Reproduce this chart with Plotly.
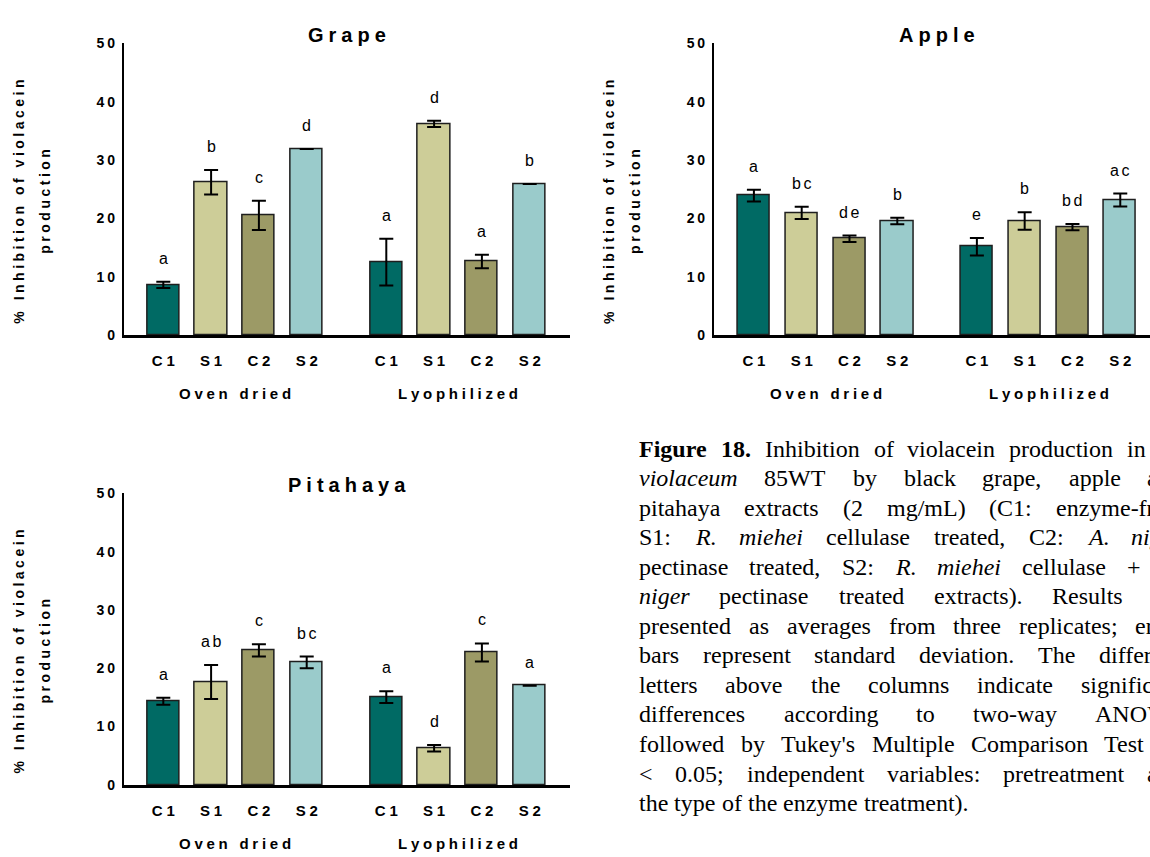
import plotly.graph_objects as go

# ---------------- data ----------------
CATEGORIES = ["C1", "S1", "C2", "S2"]
GROUPS = ["Oven dried", "Lyophilized"]

GRAPE_MEAN = [8.6, 26.2, 20.5, 31.9, 12.5, 36.2, 12.6, 25.9]
GRAPE_SD = [0.55, 2.1, 2.5, None, 4.0, 0.55, 1.15, None]
GRAPE_LETTERS = ["a", "b", "c", "d", "a", "d", "a", "b"]

APPLE_MEAN = [23.9, 20.95, 16.5, 19.55, 15.15, 19.55, 18.5, 23.15]
APPLE_SD = [1.0, 1.05, 0.55, 0.55, 1.5, 1.5, 0.55, 1.1]
APPLE_LETTERS = ["a", "bc", "de", "b", "e", "b", "bd", "ac"]

PITA_MEAN = [14.35, 17.65, 23.05, 21.0, 15.05, 6.3, 22.7, 17.0]
PITA_SD = [0.6, 2.9, 1.05, 1.0, 1.0, 0.55, 1.55, None]
PITA_LETTERS = ["a", "ab", "c", "bc", "a", "d", "c", "a"]

Y_TICKS = [0, 10, 20, 30, 40, 50]

CAPTION_LINES = [
    "<b>Figure</b> <b>18.</b> Inhibition of violacein production in <i>C.</i>",
    "<i>violaceum</i> 85WT by black grape, apple and",
    "pitahaya extracts (2 mg/mL) (C1: enzyme-free,",
    "S1: <i>R.</i> <i>miehei</i> cellulase treated, C2: <i>A.</i> <i>niger</i>",
    "pectinase treated, S2: <i>R.</i> <i>miehei</i> cellulase + <i>A.</i>",
    "<i>niger</i> pectinase treated extracts). Results are",
    "presented as averages from three replicates; error",
    "bars represent standard deviation. The different",
    "letters above the columns indicate significant",
    "differences according to two-way ANOVA",
    "followed by Tukey's Multiple Comparison Test (<i>p</i>",
    "&lt; 0.05; independent variables: pretreatment and",
    "the type of the enzyme treatment).",
]

# ---------------- style ----------------
COLORS = ["#006A64", "#CDCD98", "#9C9A66", "#9ACBCB"]
SANS = "Arial, Liberation Sans, sans-serif"
SERIF = "Times New Roman, Liberation Serif, serif"
W, H = 1150, 857
GROUP_STEP = 4.665   # offset of second group (in bar slots)
LSP = "\u2005"       # letter spacing helper


def spaced(s, sep=LSP):
    return sep.join(s)


positions = [g * GROUP_STEP + i for g in range(len(GROUPS)) for i in range(len(CATEGORIES))]
bar_colors = [COLORS[i] for g in range(len(GROUPS)) for i in range(len(CATEGORIES))]

fig = go.Figure()

panels = [
    # name, mean, sd, letters, x-domain px, y-domain px (top,bottom), x-range
    ("Grape", GRAPE_MEAN, GRAPE_SD, GRAPE_LETTERS, (123.6, 570), (36, 333.3), (-0.8305, 8.508)),
    ("Apple", APPLE_MEAN, APPLE_SD, APPLE_LETTERS, (713.8, 1150), (36, 333.3), (-0.839, 8.287)),
    ("Pitahaya", PITA_MEAN, PITA_SD, PITA_LETTERS, (123.6, 570), (494.5, 791.7), (-0.8305, 8.508)),
]

annotations = []
layout_axes = {}
for k, (name, mean, sd, letters, xd, yd, xr) in enumerate(panels, start=1):
    xa = "x" if k == 1 else f"x{k}"
    ya = "y" if k == 1 else f"y{k}"
    fig.add_trace(go.Bar(
        x=positions, y=mean, width=0.67,
        marker=dict(color=bar_colors, line=dict(color="#1e1e1e", width=1.5)),
        error_y=dict(type="data", array=sd, visible=True, color="black", thickness=2, width=7),
        xaxis=xa, yaxis=ya, showlegend=False, hoverinfo="skip",
    ))
    layout_axes["xaxis" if k == 1 else f"xaxis{k}"] = dict(
        domain=[xd[0] / W, xd[1] / W], range=list(xr), anchor=ya,
        tickvals=positions,
        ticktext=[f"<b>{spaced(c)}</b>" for c in CATEGORIES] * len(GROUPS),
        tickfont=dict(family=SANS, size=15, color="black"),
        ticks="outside", ticklen=10, tickcolor="rgba(0,0,0,0)",
        showline=True, linecolor="black", linewidth=2.7,
        showgrid=False, zeroline=False, fixedrange=True,
    )
    layout_axes["yaxis" if k == 1 else f"yaxis{k}"] = dict(
        domain=[1 - yd[1] / H, 1 - yd[0] / H], range=[0, 50], anchor=xa,
        tickvals=Y_TICKS,
        ticktext=[f"<b>{spaced(str(t), chr(0x2009))}</b>" for t in Y_TICKS],
        tickfont=dict(family=SANS, size=14, color="black"),
        ticks="outside", ticklen=4, tickcolor="rgba(0,0,0,0)",
        showline=True, linecolor="black", linewidth=1.7,
        showgrid=False, zeroline=False, fixedrange=True,
    )
    # panel title
    annotations.append(dict(
        text=f"<b>{spaced(name)}</b>", xref=xa, yref=f"{ya} domain",
        x=(-0.8305 + 8.508) / 2, y=1, yanchor="middle", yshift=8.5, showarrow=False,
        font=dict(family=SANS, size=20, color="black"),
    ))
    # y-axis title (two lines)
    for txt, shift in [("% Inhibition of violacein", -104.6), ("production", -78.6)]:
        annotations.append(dict(
            text=f"<b>{spaced(txt, chr(0x2005))}</b>", textangle=-90,
            xref=f"{xa} domain", yref=f"{ya} domain", x=0, y=0.5,
            xshift=shift, yshift=-12.5, xanchor="center", yanchor="middle",
            showarrow=False, font=dict(family=SANS, size=14, color="black"),
        ))
    # group labels
    for g, gname in enumerate(GROUPS):
        annotations.append(dict(
            text=f"<b>{spaced(gname)}</b>", xref=xa, yref=f"{ya} domain",
            x=g * GROUP_STEP + 1.5, y=0, yanchor="middle", yshift=-58.5, showarrow=False,
            font=dict(family=SANS, size=15, color="black"),
        ))
    # significance letters
    for p, m, s, lt in zip(positions, mean, sd, letters):
        annotations.append(dict(
            text=spaced(lt, "\u2006"), xref=xa, yref=ya, x=p, y=m + (s or 0),
            yanchor="middle", yshift=23.5, showarrow=False,
            font=dict(family=SANS, size=16, color="black"),
        ))

# ---------------- caption (justified, per word) ----------------
TIMES = {" ": 250, "!": 333, "'": 180, "(": 333, ")": 333, "+": 564, ",": 250, "-": 333,
         ".": 250, "/": 278, ":": 278, ";": 278, "<": 564, "=": 564}
for d in "0123456789":
    TIMES[d] = 500
TIMES.update(dict(zip("ABCDEFGHIJKLMNOPQRSTUVWXYZ",
                      [722, 667, 667, 722, 611, 556, 722, 722, 333, 389, 722, 611, 889, 722, 722,
                       556, 722, 667, 556, 611, 722, 722, 944, 722, 722, 611])))
TIMES.update(dict(zip("abcdefghijklmnopqrstuvwxyz",
                      [444, 500, 444, 500, 444, 333, 500, 500, 278, 278, 500, 278, 778, 500, 500,
                       500, 500, 333, 389, 278, 500, 500, 722, 500, 500, 444])))
ITAL = {"A": 611, "R": 611, "m": 722, "r": 389, "v": 444, "a": 500}
BOLD = {"F": 611, "u": 556, "r": 444}


def word_width(word, fs):
    style = "b" if "<b>" in word else ("i" if "<i>" in word else "")
    plain = word.replace("<b>", "").replace("</b>", "").replace("<i>", "").replace("</i>", "")
    plain = plain.replace("&lt;", "<")
    tot = 0
    for ch in plain:
        w = TIMES.get(ch, 500)
        if style == "i":
            w = ITAL.get(ch, w)
        elif style == "b":
            w = BOLD.get(ch, w)
        tot += w
    return tot / 1000 * fs


CAP_FS = 24
CAP_LEFT, CAP_RIGHT = 637, 1180
CAP_TOP, CAP_STEP = 449, 30.1
for li, line in enumerate(CAPTION_LINES):
    words = line.split(" ")
    widths = [word_width(w, CAP_FS) for w in words]
    if li == len(CAPTION_LINES) - 1:
        gap = 0.25 * CAP_FS
    else:
        gap = (CAP_RIGHT - CAP_LEFT - sum(widths)) / (len(words) - 1)
    x = CAP_LEFT
    for w, ww in zip(words, widths):
        if x < W - 2:
            annotations.append(dict(
                text=w, xref="paper", yref="paper", x=x / W, y=1 - (CAP_TOP + li * CAP_STEP) / H,
                xanchor="left", yanchor="middle", showarrow=False,
                font=dict(family=SERIF, size=CAP_FS, color="black"),
            ))
        x += ww + gap

fig.update_layout(
    width=W, height=H, margin=dict(l=0, r=0, t=0, b=0),
    paper_bgcolor="white", plot_bgcolor="white",
    bargap=0, showlegend=False, annotations=annotations,
    **layout_axes,
)

fig.write_html("out.html")
